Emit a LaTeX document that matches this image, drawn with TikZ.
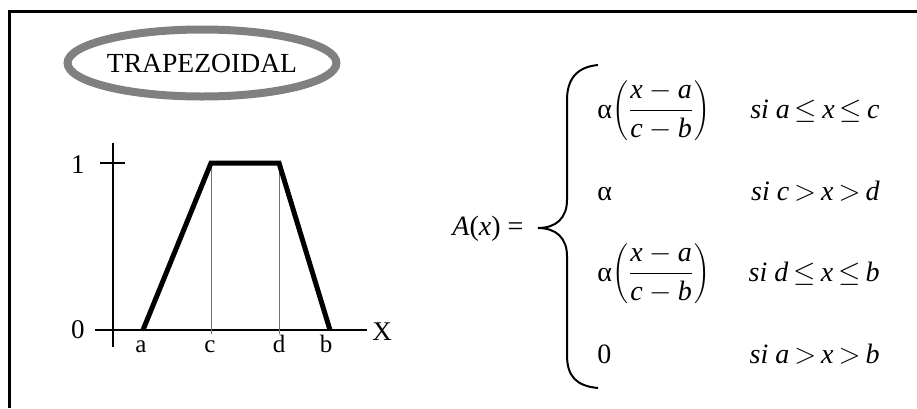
\documentclass[tikz,border=0pt]{standalone}
\usepackage{fontspec}
\setmainfont{Liberation Serif}
\usetikzlibrary{shapes.geometric}

\newcommand\trapfrac{$\displaystyle\left(\frac{\textit{x}-\textit{a}}{\textit{c}-\textit{b}}\right)$}
\newcommand\rel[1]{\kern2.5pt$#1$\kern2.5pt}

\begin{document}
\begin{tikzpicture}[x=0.5pt,y=-0.5pt,
  frame/.style={line width=1.5pt},
  halo/.style={ellipse,draw=black!50,line width=4pt,minimum width=131pt,minimum height=33.5pt,inner sep=0pt,font=\fontsize{13.8}{16}\selectfont},
  axisline/.style={line width=.7pt},
  member/.style={line width=2.5pt},
  guide/.style={black!55,line width=.4pt},
  axislabel/.style={anchor=base,inner sep=0pt,font=\fontsize{13.5}{16}\selectfont},
  pointlabel/.style={anchor=base,inner sep=0pt,font=\fontsize{12.5}{15}\selectfont},
  eqn/.style={inner sep=0pt,font=\fontsize{14}{17}\selectfont},
  brace/.style={line width=1pt}]
\useasboundingbox (0,0) rectangle (917,408);
% frame, open to the right and below
\draw[frame] (917,11) -- (9.5,11) -- (9.5,408);

% title
\node[halo] (title) at (202,63) {TRAPEZOIDAL};

% axes
\draw[axisline] (95,330) -- (367,330);
\draw[axisline] (113,143) -- (113,347);
\draw[axisline] (100,163) -- (125,163);
\node[axislabel] (one) at (78,173) {1};
\node[axislabel] (zero) at (78,338) {0};
\node[axislabel] (xlab) at (382,340) {X};

% membership function
\coordinate (a) at (143,330);
\coordinate (c) at (211,163);
\coordinate (d) at (279,163);
\coordinate (b) at (330,330);
\coordinate (cfoot) at (211,334);
\coordinate (dfoot) at (279,334);
\draw[guide] (c) -- (cfoot);
\draw[guide] (d) -- (dfoot);
\draw[member] (a) -- (c) -- (d) -- (b);
\node[pointlabel] (la) at (141,352) {a};
\node[pointlabel] (lc) at (210,352) {c};
\node[pointlabel] (ld) at (279,352) {d};
\node[pointlabel] (lb) at (326,352) {b};

% definition
\node[eqn,anchor=base west] (lhs) at (452,235) {\textit{A}(\textit{x}) =};
\draw[brace] (598,65) .. controls (576,67) and (567,80) .. (567,100) -- (567,200)
  .. controls (567,218) and (556,228) .. (538,228)
  .. controls (556,228) and (567,238) .. (567,256) -- (567,355)
  .. controls (567,376) and (576,386) .. (598,388);
\node[eqn,anchor=base west] (r1) at (597,118) {α\trapfrac};
\node[eqn,anchor=base east] (s1) at (880,118) {\textit{si a}\rel\le\textit{x}\rel\le\textit{c}};
\node[eqn,anchor=base west] (r2) at (597,200) {α};
\node[eqn,anchor=base east] (s2) at (880,200) {\textit{si c}\rel>\textit{x}\rel>\textit{d}};
\node[eqn,anchor=base west] (r3) at (597,281) {α\trapfrac};
\node[eqn,anchor=base east] (s3) at (880,281) {\textit{si d}\rel\le\textit{x}\rel\le\textit{b}};
\node[eqn,anchor=base west] (r4) at (597,363) {0};
\node[eqn,anchor=base east] (s4) at (880,363) {\textit{si a}\rel>\textit{x}\rel>\textit{b}};
\end{tikzpicture}
\end{document}
